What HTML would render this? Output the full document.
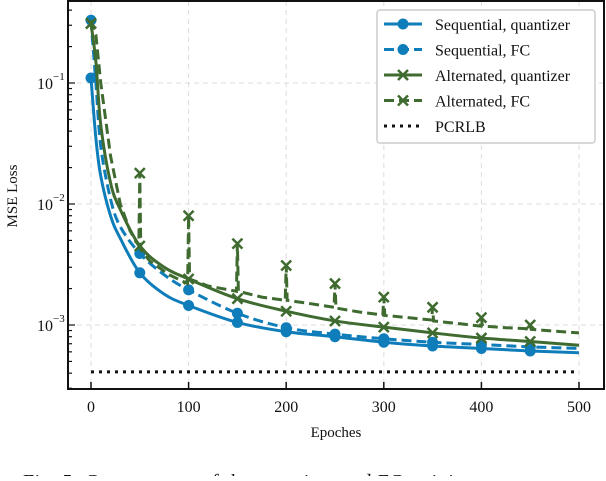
<!DOCTYPE html>
<html><head><meta charset="utf-8"><style>
body{margin:0;background:#fff;}
svg text{font-family:"Liberation Serif",serif;fill:#111;}
</style></head><body>
<svg id="chart" width="606" height="476" xmlns="http://www.w3.org/2000/svg"></svg>
<script>
const epochs = [0,5,10,20,30,50,75,100,150,200,250,300,350,400,450,500];
const seqQuant = [0.11,0.035,0.017,0.008,0.0052,0.0027,0.0018,0.00145,0.00105,0.00088,0.0008,0.00072,0.00067,0.00064,0.00061,0.00059];
const seqFC = [0.33,0.1,0.03,0.011,0.0065,0.0039,0.0026,0.00195,0.00125,0.00095,0.00084,0.00077,0.00072,0.00069,0.00066,0.00064];
const altQuant = [0.31,0.15,0.045,0.015,0.009,0.0045,0.003,0.0024,0.00165,0.0013,0.00108,0.00096,0.00086,0.00078,0.00073,0.00068];
const altFCEpochs = [0,5,10,20,30,40,49,50,51,60,80,99,100,101,120,149,150,151,175,199,200,201,225,249,250,251,275,299,300,301,325,349,350,351,375,399,400,401,425,449,450,451,475,500];
const altFC = [0.33,0.25,0.1,0.025,0.01,0.006,0.0045,0.018,0.0042,0.0034,0.0026,0.0022,0.008,0.0024,0.0021,0.0019,0.0047,0.0019,0.0017,0.0016,0.0031,0.0016,0.0015,0.0014,0.0022,0.00138,0.00128,0.00121,0.0017,0.0012,0.00115,0.0011,0.0014,0.00108,0.00103,0.00098,0.00115,0.00098,0.00095,0.00093,0.001,0.00092,0.00089,0.00086];
const altFCMarkerEpochs = [0,50,100,150,200,250,300,350,400,450];
const altFCMarkerVals = [0.31,0.018,0.008,0.0047,0.0031,0.0022,0.0017,0.0014,0.00115,0.001];
const pcrlb = 0.00041;
const xTicks = [0,100,200,300,400,500];
const yTickExps = [-1,-2,-3];

const svg = document.getElementById('chart');
const NS = 'http://www.w3.org/2000/svg';
const L=68,R=604,T=1,B=389;
const X = e => 91 + e*0.976;
const Y = v => 83 - (Math.log10(v)+1)*121;
function mk(tag, attrs, parent){const el=document.createElementNS(NS,tag);for(const k in attrs)el.setAttribute(k,attrs[k]);(parent||svg).appendChild(el);return el;}
const BLUE='#0f7dba', GREEN='#3f6b30';

for(const t of xTicks){const g=mk('line',{x1:X(t),x2:X(t),y1:T,y2:B,stroke:'#ddd','stroke-dasharray':'5,4','stroke-width':1});
}
for(const e of yTickExps){const g=mk('line',{x1:L,x2:R,y1:Y(Math.pow(10,e)),y2:Y(Math.pow(10,e)),stroke:'#ddd','stroke-dasharray':'5,4','stroke-width':1});
}

function smoothPath(xs, ys){
  const p = xs.map((x,i)=>[X(x),Y(ys[i])]);
  let d='M'+p[0][0]+','+p[0][1];
  for(let i=0;i<p.length-1;i++){
    const p0=p[Math.max(0,i-1)],p1=p[i],p2=p[i+1],p3=p[Math.min(p.length-1,i+2)];
    const c1=[p1[0]+(p2[0]-p0[0])/6,p1[1]+(p2[1]-p0[1])/6];
    const c2=[p2[0]-(p3[0]-p1[0])/6,p2[1]-(p3[1]-p1[1])/6];
    d+=' C'+c1+' '+c2+' '+p2;
  }
  return d;
}
function linePath(xs, ys){return xs.map((x,i)=>(i?'L':'M')+X(x)+','+Y(ys[i])).join(' ');}

const clip = mk('clipPath',{id:'pc'}); mk('rect',{x:L,y:T,width:R-L,height:B-T},clip);
const plot = mk('g',{'clip-path':'url(#pc)'});


const pl=mk('line',{x1:X(0),x2:X(500),y1:Y(pcrlb),y2:Y(pcrlb),stroke:'#111','stroke-width':3,'stroke-dasharray':'3,5'},plot);


function circles(vals, color, name){
  const g=mk('g',{},plot);
  
  epochs.forEach((e,i)=>{ if(e%50===0 && e<500){const c=mk('circle',{cx:X(e),cy:Y(vals[i]),r:5.5,fill:color},g);
    }});
}
function crosses(xs, vals, color, name){
  const g=mk('g',{},plot);
  
  xs.forEach((e,i)=>{ if(e%50===0 && e<500){const x=X(e),y=Y(vals[i]);
    const c=mk('path',{d:`M${x-5},${y-5}L${x+5},${y+5}M${x-5},${y+5}L${x+5},${y-5}`,stroke:color,'stroke-width':2.5},g);
    }});
}
let s;
s=mk('path',{d:smoothPath(epochs,seqQuant),stroke:BLUE,'stroke-width':3,fill:'none'},plot);

circles(seqQuant,BLUE,'sequential-quantizer-markers');
s=mk('path',{d:smoothPath(epochs,seqFC),stroke:BLUE,'stroke-width':3,fill:'none','stroke-dasharray':'10,5'},plot);

circles(seqFC,BLUE,'sequential-fc-markers');
s=mk('path',{d:smoothPath(epochs,altQuant),stroke:GREEN,'stroke-width':3,fill:'none'},plot);

crosses(epochs,altQuant,GREEN,'alternated-quantizer-markers');
s=mk('path',{d:linePath(altFCEpochs,altFC),stroke:GREEN,'stroke-width':3,fill:'none','stroke-dasharray':'10,5'},plot);

crosses(altFCMarkerEpochs,altFCMarkerVals,GREEN,'alternated-fc-markers');

const fr=mk('rect',{x:L,y:T,width:R-L,height:B-T,fill:'none',stroke:'#111','stroke-width':2});

for(const t of xTicks){
  const tk=mk('line',{x1:X(t),x2:X(t),y1:B,y2:B-7,stroke:'#111','stroke-width':1.5});
  
  const tx=mk('text',{x:X(t),y:412,'text-anchor':'middle','font-size':16});tx.textContent=t;
  
}
for(let d=-4; d<=-1; d++){
  for(let m=1;m<10;m++){
    const v=m*Math.pow(10,d); const y=Y(v); if(y<T||y>B) continue;
    const tk=mk('line',{x1:L,x2:L+(m===1?7:4),y1:y,y2:y,stroke:'#111','stroke-width':1.2});
    
  }
}
for(const e of yTickExps){
  const y=Y(Math.pow(10,e));
  const tx=mk('text',{x:53,y:y+6,'text-anchor':'end','font-size':16});tx.textContent='10';
  
  const sp=mk('text',{x:53,y:y-3,'font-size':11});sp.textContent='−'+(-e);
  
}
const yt=mk('text',{x:0,y:0,transform:'translate(17,196) rotate(-90)','text-anchor':'middle','font-size':15});yt.textContent='MSE Loss';

const xt=mk('text',{x:336,y:437,'text-anchor':'middle','font-size':15});xt.textContent='Epoches';

const cap=mk('text',{x:23,y:488,'font-size':20,fill:'#333',textLength:452,lengthAdjust:'spacing'});cap.textContent='Fig. 5:  Convergence of the quantizer and FC training';


const lg=mk('g',{});

mk('rect',{x:377,y:10,width:218,height:133,rx:3,fill:'#fff',stroke:'#ccc','stroke-width':1.5},lg);
const entries=[['Sequential, quantizer',BLUE,'',1],['Sequential, FC',BLUE,'10,5',1],['Alternated, quantizer',GREEN,'',2],['Alternated, FC',GREEN,'10,5',2],['PCRLB','#111','3,5',0]];
entries.forEach((en,i)=>{
  const y=24+i*25.5;
  const g=mk('g',{},lg);
  
  mk('line',{x1:384,x2:422,y1:y,y2:y,stroke:en[1],'stroke-width':3,'stroke-dasharray':en[2]},g);
  if(en[3]===1) mk('circle',{cx:403,cy:y,r:5.5,fill:en[1]},g);
  if(en[3]===2) mk('path',{d:`M398,${y-5}L408,${y+5}M398,${y+5}L408,${y-5}`,stroke:en[1],'stroke-width':2.5},g);
  const t=mk('text',{x:435,y:y+6,'font-size':16},g);t.textContent=en[0];
});
</script>
</body></html>
